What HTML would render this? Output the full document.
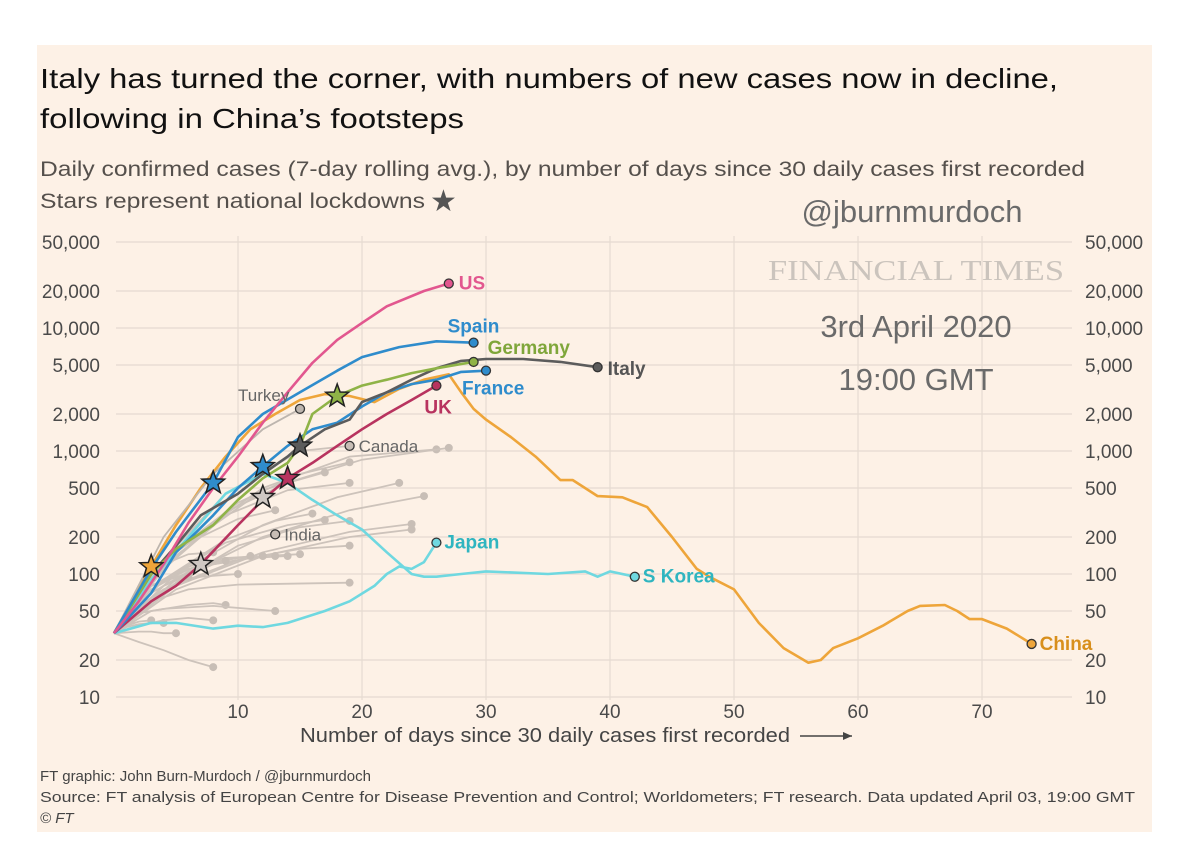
<!DOCTYPE html>
<html><head><meta charset="utf-8"><style>
body{margin:0;background:#fff;}
svg{display:block;font-family:"Liberation Sans",sans-serif;}
</style></head><body>
<svg id="chart" width="1200" height="856" viewBox="0 0 1200 856" xmlns="http://www.w3.org/2000/svg">
<rect x="0" y="0" width="1200" height="856" fill="#ffffff"/>
<rect x="37" y="45" width="1115" height="787" fill="#fdf1e6"/>
<text x="40" y="88" font-size="28" fill="#111" textLength="1018" lengthAdjust="spacingAndGlyphs">Italy has turned the corner, with numbers of new cases now in decline,</text>
<text x="40" y="128" font-size="28" fill="#111" textLength="424" lengthAdjust="spacingAndGlyphs">following in China’s footsteps</text>
<text x="40" y="176" font-size="21" fill="#55504c" textLength="1045" lengthAdjust="spacingAndGlyphs">Daily confirmed cases (7-day rolling avg.), by number of days since 30 daily cases first recorded</text>
<text x="40" y="208" font-size="21" fill="#55504c" textLength="385" lengthAdjust="spacingAndGlyphs">Stars represent national lockdowns</text>
<text x="430" y="211" font-size="30" fill="#555">★</text>
<g id="grid"></g>
<text x="912" y="222" font-size="31" fill="#6a6a6a" text-anchor="middle">@jburnmurdoch</text>
<text x="916" y="280" font-size="28" fill="#cbc4bd" text-anchor="middle" font-family="Liberation Serif, serif" textLength="296" lengthAdjust="spacingAndGlyphs">FINANCIAL TIMES</text>
<text x="916" y="337" font-size="31" fill="#6a6a6a" text-anchor="middle">3rd April 2020</text>
<text x="916" y="390" font-size="31" fill="#6a6a6a" text-anchor="middle">19:00 GMT</text>
<g id="series"></g>
<g id="marks"></g>
<text x="300" y="742" font-size="20" fill="#444" textLength="490" lengthAdjust="spacingAndGlyphs">Number of days since 30 daily cases first recorded</text>
<line x1="800" y1="736" x2="852" y2="736" stroke="#444" stroke-width="1.5"/>
<path d="M852,736 l-9,-4 v8 z" fill="#444"/>
<text x="40" y="781" font-size="15" fill="#444">FT graphic: John Burn-Murdoch / @jburnmurdoch</text>
<text x="40" y="802" font-size="15" fill="#444" textLength="1095" lengthAdjust="spacingAndGlyphs">Source: FT analysis of European Centre for Disease Prevention and Control; Worldometers; FT research. Data updated April 03, 19:00 GMT</text>
<text x="40" y="823" font-size="15" fill="#444" font-style="italic">© FT</text>
</svg>
<script>
const yTicks=[10,20,50,100,200,500,1000,2000,5000,10000,20000,50000];
const yTickLabels=["10","20","50","100","200","500","1,000","2,000","5,000","10,000","20,000","50,000"];
const xTicks=[10,20,30,40,50,60,70];

const greyDays=[[0,4,9,15,19],[0,5,12,19,26],[0,5,12,20,27],[0,4,10,15,19],[0,4,9,14,17],[0,5,12,18,23],[0,4,9,14,19],[0,5,12,19,25],[0,3,7,10,13],[0,4,9,13,16],[0,4,9,14,17],[0,5,10,15,19],[0,5,12,19,24],[0,5,12,19,24],[0,4,10,15,19],[0,4,8,12,15],[0,3,8,11,14],[0,3,7,10,13],[0,3,6,9,12],[0,3,6,9,11],[0,3,6,8,9],[0,2,4,6,8],[0,3,5,7,10],[0,3,6,10,19],[0,2,4,6,6],[0,3,6,8,9],[0,2,4,8,13],[0,1,2,3,3],[0,1,2,3,4],[0,2,3,4,5],[0,2,4,6,8],[0,2,4,6,8]];
const greyVals=[[33,130,450,1000,1100],[33,160,500,900,1030],[33,150,480,850,1060],[33,130,380,650,810],[33,110,320,550,670],[33,100,250,420,550],[33,110,300,480,550],[33,90,200,330,430],[33,100,200,280,330],[33,90,190,270,310],[33,90,180,250,275],[33,85,170,240,270],[33,80,150,220,255],[33,75,140,200,230],[33,75,130,160,170],[33,80,120,140,145],[33,80,120,135,140],[33,80,120,135,140],[33,80,115,135,140],[33,75,110,130,140],[33,70,105,122,128],[33,75,120,145,150],[33,60,85,95,100],[33,60,75,82,85],[33,55,75,90,95],[33,50,56,58,56],[33,48,52,55,50],[33,38,41,42,42],[33,37,39,40,40],[33,34,34,33,33],[33,38,42,44,42],[33,28,24,20,17.5]];

const usDays=[0,2,4,6,8,10,12,14,16,18,20,22,25,27];
const usVals=[33,60,120,260,500,900,1700,3000,5200,8000,11000,15000,20000,23000];
const spainDays=[0,3,5,8,10,12,15,18,20,23,26,29];
const spainVals=[33,110,220,550,1300,2000,3000,4500,5800,7000,7800,7600];
const germanyDays=[0,3,5,8,10,12,14,15,16,18,20,22,24,26,29];
const germanyVals=[33,100,160,250,400,600,800,1100,2000,2800,3400,3800,4300,4700,5300];
const italyDays=[0,3,5,7,10,12,14,15,17,19,20,22,24,26,28,30,33,36,39];
const italyVals=[33,100,170,300,450,650,900,1100,1500,1800,2500,3000,3800,4700,5400,5600,5600,5300,4800];
const franceDays=[0,3,5,8,10,12,14,16,18,20,22,24,26,28,30];
const franceVals=[33,70,150,300,500,750,1100,1500,1700,2300,3000,3500,3800,4400,4500];
const ukDays=[0,3,5,7,10,12,14,16,18,20,22,24,26];
const ukVals=[33,60,80,120,250,400,600,800,1100,1500,2000,2600,3400];
const chinaDays=[0,3,5,7,9,11,13,15,17,19,21,23,25,27,28,29,30,32,34,36,37,39,41,43,45,47,48,50,52,54,56,57,58,60,62,64,65,67,68,69,70,72,74];
const chinaVals=[33,115,250,500,900,1500,2000,2600,2900,2800,2500,3200,3800,4200,3000,2200,1800,1300,900,580,580,430,420,350,200,110,95,75,40,25,19,20,25,30,38,50,55,56,50,43,43,36,27];
const japanDays=[0,3,5,8,10,12,14,17,19,21,22,23,24,25,26];
const japanVals=[33,40,40,36,38,37,40,50,60,80,100,115,110,125,180];
const koreaDays=[0,3,6,9,12,14,16,18,20,22,24,25,26,28,30,35,38,39,40,42];
const koreaVals=[33,90,200,450,650,550,400,300,230,150,100,95,95,100,105,100,105,95,105,95];
const turkeyDays=[0,4,8,12,15];
const turkeyVals=[33,200,650,1500,2200];

const starDays=[3,15,8,12,14,18,7,12];
const starVals=[115,1100,550,750,600,2800,120,420];
const starColors=["#eea53a","#5c5c5c","#2f8ccc","#2f8ccc","#b8335f","#8fb347","#cfc8c3","#cfc8c3"];

const NS="http://www.w3.org/2000/svg";
function xs(d){return 114+12.4*d;}
function ys(v){return 697-123*(Math.log10(v)-1);}
function mk(tag,attrs,parent){const e=document.createElementNS(NS,tag);for(const k in attrs)e.setAttribute(k,attrs[k]);parent.appendChild(e);return e;}
const grid=document.getElementById('grid'),ser=document.getElementById('series'),marks=document.getElementById('marks');

yTicks.forEach((t,i)=>{
  const l=mk('line',{x1:116,x2:1072,y1:ys(t),y2:ys(t),stroke:'#e6dad1','stroke-width':1.2},grid);
  
  
  const a=mk('text',{x:100,y:ys(t)+7,'font-size':19,fill:'#4a4a4a','text-anchor':'end'},grid);
  a.textContent=yTickLabels[i];
  
  
  const b=mk('text',{x:1085,y:ys(t)+7,'font-size':19,fill:'#4a4a4a'},grid);
  b.textContent=yTickLabels[i];
  
  
});
xTicks.forEach(t=>{
  const l=mk('line',{x1:xs(t),x2:xs(t),y1:236,y2:700,stroke:'#e6dad1','stroke-width':1.2},grid);
  
  
  const a=mk('text',{x:xs(t),y:718,'font-size':19,fill:'#4a4a4a','text-anchor':'middle'},grid);
  a.textContent=t;
  
  
});
function pathD(days,vals){return days.map((d,i)=>(i?'L':'M')+xs(d).toFixed(1)+','+ys(vals[i]).toFixed(1)).join('');}
function dot(d,v,fill,r){const c=mk('circle',{cx:xs(d),cy:ys(v),r:r||4.5,fill:fill,stroke:'#333','stroke-width':1.3},marks);return c;}
greyDays.forEach((days,i)=>{
  const p=mk('path',{d:pathD(days,greyVals[i]),fill:'none',stroke:'#cdc3bb','stroke-width':1.8},ser);
  
  
  const c=mk('circle',{cx:xs(days[days.length-1]),cy:ys(greyVals[i][greyVals[i].length-1]),r:4,fill:'#c8beb6'},ser);
  
  
});
const named=[
 ['china',chinaDays,chinaVals,'#eea53a','China','#d88f1c',8,6],
 ['japan',japanDays,japanVals,'#6fd8e0','Japan','#2fb5c0',8,6],
 ['s-korea',koreaDays,koreaVals,'#6fd8e0','S Korea','#2fb5c0',8,6],
 ['turkey',turkeyDays,turkeyVals,'#bdb5ae','Turkey','#666',-62,-8],
 ['uk',ukDays,ukVals,'#b8335f','UK','#b8335f',-12,28],
 ['france',franceDays,franceVals,'#2f8ccc','France','#2f8ccc',-24,24],
 ['italy',italyDays,italyVals,'#5c5c5c','Italy','#555',10,8],
 ['germany',germanyDays,germanyVals,'#8fb347','Germany','#7fa63a',14,-8],
 ['spain',spainDays,spainVals,'#2f8ccc','Spain','#2f8ccc',-26,-10],
 ['us',usDays,usVals,'#e2578f','US','#e2578f',10,6]
];
named.forEach(s=>{
  const [id,days,vals,col,label,lcol,dx,dy]=s;
  const p=mk('path',{d:pathD(days,vals),fill:'none',stroke:col,'stroke-width':id==='turkey'?1.8:2.6,'stroke-linejoin':'round'},ser);
  
  
  const ld=days[days.length-1],lv=vals[vals.length-1];
  const c=dot(ld,lv,col);
  
  
  const t=mk('text',{x:xs(ld)+dx,y:ys(lv)+dy,'font-size':id==='turkey'?17:19,'font-weight':id==='turkey'?'normal':'bold',fill:lcol},marks);
  t.textContent=label;
  
  
});
[['canada',19,1100,'Canada'],['india',13,210,'India']].forEach(s=>{
  const c=dot(s[1],s[2],'#c8beb6',4.5);
  
  
  const t=mk('text',{x:xs(s[1])+9,y:ys(s[2])+6,'font-size':17,fill:'#666'},marks);
  t.textContent=s[3];
  
  
});
function starPath(cx,cy,R,r){let d='';for(let i=0;i<10;i++){const a=-Math.PI/2+i*Math.PI/5,rr=i%2?r:R;d+=(i?'L':'M')+(cx+rr*Math.cos(a)).toFixed(1)+','+(cy+rr*Math.sin(a)).toFixed(1);}return d+'Z';}
starDays.forEach((d,i)=>{
  const s=mk('path',{d:starPath(xs(d),ys(starVals[i]),12,5),fill:starColors[i],stroke:'#222','stroke-width':1.5},marks);
  
  
});
</script>
</body></html>
